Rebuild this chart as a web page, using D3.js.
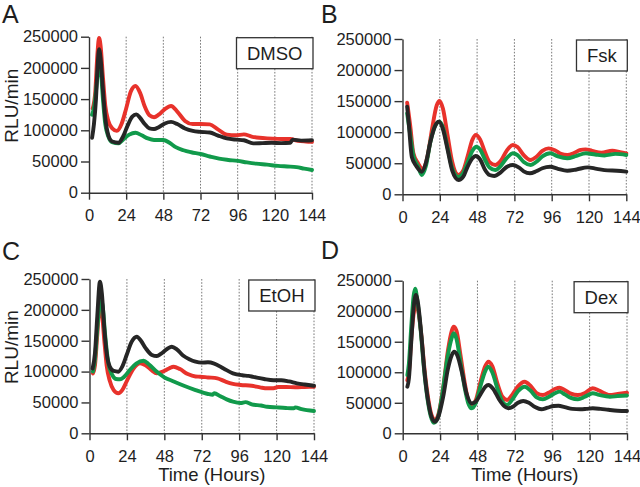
<!DOCTYPE html>
<html><head><meta charset="utf-8">
<script src="https://cdn.jsdelivr.net/npm/d3@7"></script>
<style>
html,body{margin:0;padding:0;background:#fff;}
svg{display:block;font-family:"Liberation Sans",Arial,Helvetica,sans-serif;}
</style></head>
<body>
<svg id="chart" width="640" height="487"></svg>
<script>
// ---- Data ----
const xTicks = [0, 24, 48, 72, 96, 120, 144];
const yTicks = [0, 50000, 100000, 150000, 200000, 250000];
const panelLetters = ["A", "B", "C", "D"];
const treatments = ["DMSO", "Fsk", "EtOH", "Dex"];

const dmsoRed = [[2.4,135000],[4,160000],[5.5,225000],[6.5,248000],[7.5,235000],[9,185000],[10.5,140000],[12.5,115000],[15,103000],[18,99000],[21,110000],[24,135000],[27,162000],[30,171000],[33,160000],[36,138000],[39,124000],[42,121000],[45,125000],[49,134000],[53,139000],[57,130000],[62,115000],[67,110000],[72,110000],[78,109500],[83,102000],[89,93000],[95,92000],[100,93500],[105,90000],[110,88000],[115,87000],[120,86500],[126,86000],[130,86000],[135,83000],[140,82000],[144,81500]];
const dmsoBlack = [[2,88000],[3.2,110000],[4.5,150000],[5.5,200000],[6.5,230000],[7.5,215000],[9,165000],[10.5,120000],[12.5,92000],[15,82000],[19,80000],[22,90000],[25,108000],[28,122000],[30.5,125500],[33,120000],[36,110000],[39,103000],[42,102000],[45,105000],[49,111000],[53,113500],[57,110000],[62,103000],[67,99000],[72,97500],[78,96500],[83,92000],[89,87000],[95,85000],[100,84000],[106,79000],[112,79500],[118,80000],[124,79500],[130,80000],[131.5,85000],[137,83500],[144,84000]];
const dmsoGreen = [[2,125000],[3.5,140000],[5,175000],[6.5,210000],[7.5,200000],[9,150000],[10.5,110000],[12.5,90000],[15,81000],[19,79000],[22,85000],[26,93000],[30,96000],[34,92000],[38,87000],[42,84500],[48,84500],[52,80000],[56,73000],[61,68000],[66,64800],[72,62000],[78,58000],[84,54500],[90,52500],[96,51000],[102,48500],[108,46500],[115,44900],[122,43000],[128,42000],[134,41000],[139,38500],[144,36400]];

const fskRed = [[3,147500],[5,110000],[7,66000],[10,50000],[13,40200],[16,60000],[19,105000],[22,143000],[23.8,150200],[26,138000],[29,95000],[32,52000],[36,31000],[39,38000],[42,62000],[45,88000],[47.2,95500],[50,88000],[53,68000],[56,52000],[59.7,47200],[63,53000],[67,70000],[71,79400],[74,76000],[78,63000],[82.3,55200],[86,60000],[90,70000],[94,74000],[98,71000],[102,65000],[106,63300],[110,66000],[114,71000],[117.8,72400],[122,70000],[128,67000],[135,70000],[140,68000],[144,66000]];
const fskGreen = [[3,130000],[5,95000],[7,62000],[10,45000],[12.4,31000],[15,45000],[18,85000],[21,110000],[23.8,117000],[26,108000],[29,75000],[32,42000],[36,28000],[39,34000],[42,52000],[45,70000],[47.6,76600],[50,72000],[53,56000],[56,43000],[59.7,39000],[63,45000],[67,58000],[71,66000],[74,63000],[78,52000],[82.5,47200],[86,52000],[90,61000],[95,66000],[100,61000],[106,58000],[112,62000],[118,66000],[124,64000],[130,62500],[137,65000],[144,63300]];
const fskBlack = [[3,141000],[4,115000],[6,60000],[9,45000],[12.4,36400],[15,50000],[18,85000],[21,110000],[23.5,117000],[26,105000],[29,72000],[32,38000],[36,23000],[39,28000],[42,45000],[45,58000],[47,61600],[50,56000],[53,40000],[56,31000],[59,29500],[63,35000],[67,44000],[71,47200],[75,43000],[78,37000],[82,33800],[86,37000],[90,42000],[95,44400],[100,41000],[106,38000],[112,40000],[119,43400],[125,41000],[132,38500],[138,38000],[144,36400]];

const etohRed = [[2.2,97000],[3.5,110000],[5,160000],[6.7,210000],[8,195000],[9.5,150000],[11,110000],[13,85000],[15.5,70000],[18.5,64800],[21,70000],[24,85000],[28,104000],[32.5,113400],[36,110000],[40,102000],[43,97200],[47,100000],[51,105000],[54,107900],[58,104000],[63,96000],[68,92000],[71,91700],[76,90500],[82,89100],[87,84000],[92,80000],[97,78300],[104,77000],[110,74000],[114,72900],[118,73000],[121,75000],[126,75000],[132,74500],[138,75000],[144,75500]];
const etohGreen = [[2.2,100000],[3.5,120000],[5,170000],[7.3,216000],[8.5,205000],[10,160000],[12,115000],[14.5,95000],[17,88000],[19.6,87500],[22,91000],[26,103000],[30,113000],[34.7,117600],[38,112000],[43,100000],[48,90700],[54,84000],[61,76600],[68,70000],[76,63700],[79,62500],[80,65000],[84,60000],[88,55000],[92,51200],[97,49000],[100,50500],[104,47000],[110,45000],[114,43100],[120,42000],[126,41000],[131,40500],[132,42000],[136,39000],[144,36100]];
const etohBlack = [[2,105000],[3.5,130000],[5,190000],[6.7,245600],[8,225000],[9.5,170000],[11,130000],[13,108000],[15.5,101000],[18.5,99800],[21,108000],[24,128000],[27,148000],[30.3,156500],[33,150000],[36,138000],[40,127000],[43.2,125200],[46,129000],[50,137000],[52.8,140300],[56,136000],[60,126000],[64,120000],[68,116000],[72,114500],[76,115000],[80,113000],[86,105000],[92,97200],[98,94000],[102,93000],[105,91500],[112,88000],[118,86000],[123,86000],[128,84000],[133,81000],[138,79000],[144,77100]];

const dexRed = [[3,87000],[4,100000],[5.5,155000],[7,195000],[8.5,210000],[10,200000],[12,160000],[14,105000],[16.5,55000],[18.5,30000],[20.7,21800],[23,32000],[26,75000],[29,135000],[31.5,168000],[32.7,174600],[34.5,168000],[37,130000],[40,80000],[42,55000],[44.3,46400],[47,55000],[50,85000],[53,110000],[55,117300],[57.5,110000],[61,80000],[64,60000],[67,54600],[70,62000],[74,77000],[78.3,84500],[82,78000],[86,66000],[90,62700],[94,67000],[98,73000],[100.7,74700],[104,71000],[108,65000],[112.5,62700],[117,66000],[122,73700],[126,70000],[130,65000],[133,62700],[138,64500],[144,66500]];
const dexGreen = [[3,95500],[4,115000],[5.5,175000],[7,225000],[8,237000],[9.5,215000],[11.5,170000],[13.5,110000],[16,55000],[18,28000],[20,17400],[22.5,25000],[25.5,65000],[28.5,120000],[31,152000],[32.7,163800],[34.5,155000],[37,118000],[40,72000],[42,50000],[44.3,41000],[47,50000],[50,78000],[53,102000],[55,109100],[57.5,100000],[61,72000],[64,52000],[67,46400],[70,54000],[74,69000],[78.3,76300],[82,70000],[86,59000],[90,55700],[94,60000],[98,66000],[100.7,68200],[104,64000],[108,58000],[112.5,55700],[117,60000],[122,65500],[126,63000],[130,61000],[133,60000],[138,61000],[144,62000]];
const dexBlack = [[3,76300],[4,90000],[5.5,150000],[7,205000],[8.5,226600],[10,210000],[12,160000],[14,100000],[16.5,50000],[18.5,27000],[20.7,19000],[23,28000],[26,60000],[29,105000],[31.5,128000],[33,133700],[35,128000],[38,100000],[41,65000],[44.3,49100],[47,52000],[50,64000],[53,76000],[55,79100],[58,73000],[62,55000],[65,45000],[67.8,41000],[71,44000],[74,50000],[77.4,52900],[81,50000],[85,43000],[89,39300],[93,42000],[97,44800],[100,45200],[104,43000],[109,40000],[114,39300],[118,40000],[122,41000],[127,40000],[132,38500],[138,37000],[144,36500]];

const panelSeries = [
  [dmsoRed, dmsoGreen, dmsoBlack],
  [fskRed, fskGreen, fskBlack],
  [etohRed, etohGreen, etohBlack],
  [dexRed, dexGreen, dexBlack]
];

// ---- Layout / style ----
const colors = ["#e8322b", "#119a4b", "#262626"];
const layout = [
  {x0: 89,    x1: 312,   yTop: 36.7, yBot: 192.7, lx: 2,   ly: 22.5, ylab: true,  xlab: false},
  {x0: 402.5, x1: 626.3, yTop: 39,   yBot: 194.3, lx: 321, ly: 22.5, ylab: false, xlab: false},
  {x0: 89.5,  x1: 314,   yTop: 279,  yBot: 433.3, lx: 2,   ly: 260,  ylab: true,  xlab: true},
  {x0: 402.7, x1: 627,   yTop: 280.7,yBot: 433.3, lx: 321, ly: 259,  ylab: false, xlab: true}
];

const svg = d3.select("#chart");
const ink = "#1e1e1e";

layout.forEach((L, i) => {
  const g = svg.append("g");
  const x = d3.scaleLinear().domain([0, 144]).range([L.x0, L.x1]);
  const y = d3.scaleLinear().domain([0, 250000]).range([L.yBot, L.yTop]);

  // dotted grid
  g.append("g").selectAll("line").data(xTicks.slice(1)).join("line")
    .attr("x1", d => x(d)).attr("x2", d => x(d))
    .attr("y1", L.yTop).attr("y2", L.yBot)
    .attr("stroke", "#6a6a6a").attr("stroke-width", 0.9)
    .attr("stroke-dasharray", "1.6,1.6");

  // legend box
  const box = g.append("g");
  const rect = box.append("rect");
  const txt = box.append("text").text(treatments[i])
    .attr("font-size", 18.5).attr("fill", ink).attr("text-anchor", "middle");
  const tw = txt.node().getComputedTextLength();
  const bw = tw + 21, bh = 31;
  const bx = L.x1 + 1 - bw, by = L.yTop + 1;
  rect.attr("x", bx).attr("y", by).attr("width", bw).attr("height", bh)
    .attr("fill", "#fff").attr("stroke", "#333").attr("stroke-width", 1.3);
  txt.attr("x", bx + bw / 2).attr("y", by + bh / 2 + 6.5);

  // series
  const line = d3.line().x(d => x(d[0])).y(d => y(d[1])).curve(d3.curveMonotoneX);
  panelSeries[i].forEach((s, k) => {
    g.append("path").attr("d", line(s)).attr("fill", "none")
      .attr("stroke", colors[k]).attr("stroke-width", 3.9)
      .attr("stroke-linejoin", "round").attr("stroke-linecap", "round");
  });

  // axes
  const ya = g.append("g").attr("transform", `translate(${L.x0},0)`)
    .call(d3.axisLeft(y).tickValues(yTicks).tickFormat(d3.format("d"))
      .tickSize(8).tickSizeOuter(0).tickPadding(3));
  const xa = g.append("g").attr("transform", `translate(0,${L.yBot})`)
    .call(d3.axisBottom(x).tickValues(xTicks).tickSize(7).tickSizeOuter(0).tickPadding(10));
  [ya, xa].forEach(a => {
    a.selectAll("path, line").attr("stroke", "#333").attr("stroke-width", 1.4);
    a.selectAll("text").attr("font-size", 16.5).attr("fill", ink)
      .attr("font-family", "'Liberation Sans', Arial, sans-serif");
  });

  // panel letter
  g.append("text").attr("x", L.lx).attr("y", L.ly).text(panelLetters[i])
    .attr("font-size", 25).attr("fill", ink);

  if (L.ylab) {
    g.append("text").attr("transform", `translate(17.5,${(L.yTop + L.yBot) / 2 - 9}) rotate(-90)`)
      .attr("text-anchor", "middle").attr("font-size", 19).attr("fill", ink).text("RLU/min");
  }
  if (L.xlab) {
    g.append("text").attr("x", (L.x0 + L.x1) / 2 + 10).attr("y", 481)
      .attr("text-anchor", "middle").attr("font-size", 18.5).attr("fill", ink).text("Time (Hours)");
  }
});
</script>
</body></html>
